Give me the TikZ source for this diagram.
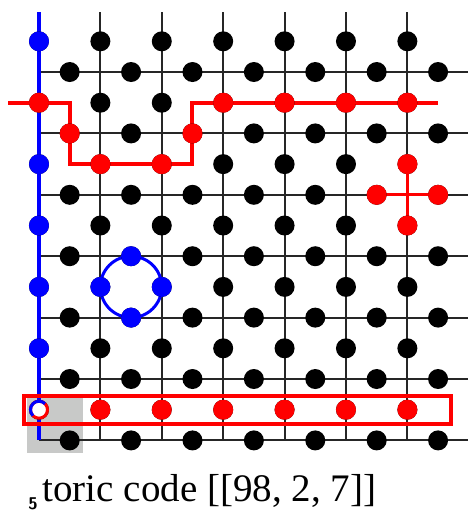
\documentclass[tikz,border=0pt]{standalone}
\usepackage{fontspec}
\setmainfont{Liberation Serif}
\usepackage{tikz}
\definecolor{qred}{RGB}{255,0,0}
\definecolor{qblue}{RGB}{0,0,255}
\definecolor{cellgray}{RGB}{200,201,200}
\tikzset{
  edge/.style={draw=black!85, line width=1pt},
  zline/.style={draw=qblue, line width=1.8pt},
  xline/.style={draw=qred, line width=2pt},
  qb/.style={circle, fill=black, inner sep=0pt, minimum size=10pt},
  xq/.style={qb, fill=qred},
  zq/.style={qb, fill=qblue}
}

\begin{document}
\begin{tikzpicture}[x=30.7pt, y=-30.7pt]
\useasboundingbox (-0.635,-1.173) rectangle (6.987,7.166);
% ---- shaded cell (bottom left) ----
\fill[cellgray] (-0.195,5.31) rectangle (0.717,6.2);
% ---- lattice ----
\foreach \i in {0,...,6}{
  \draw[edge] (\i,-0.977) -- (\i,6);
  \draw[edge] (0,\i) -- (6.99,\i);}
% ---- Z string on the left boundary ----
\draw[zline] (0,-0.977) -- (0,6);
% ---- X string on the dual lattice ----
\coordinate (xa) at (-0.5,0.5);
\coordinate (xb) at (0.5,0.5);
\coordinate (xc) at (0.5,1.5);
\coordinate (xd) at (2.5,1.5);
\coordinate (xe) at (2.5,0.5);
\coordinate (xf) at (6.5,0.5);
\draw[xline] (xa) -- (xb) -- (xc) -- (xd) -- (xe) -- (xf);
% ---- star operator ----
\coordinate (sn) at (6,1.5);
\coordinate (ss) at (6,2.5);
\coordinate (sw) at (5.5,2);
\coordinate (se) at (6.5,2);
\draw[xline, line width=1.5pt] (sn) -- (ss) (sw) -- (se);
% ---- plaquette operator ----
\coordinate (pc) at (1.5,3.5);
\draw[zline, line width=1.5pt] (pc) circle[radius=0.5];
% ---- bottom row frame ----
\draw[xline] (-0.236,5.27) rectangle (6.71,5.73);
% ---- data qubits: vertical edges (v) and horizontal edges (h) ----
\foreach \i in {0,...,6}{
  \foreach \k in {0,...,6}{
    \node[qb] (v-\i-\k) at (\i,\k-0.5) {};
    \node[qb] (h-\i-\k) at (\i+0.5,\k) {};}}
% ---- coloured qubits ----
\foreach \k/\n in {0/1, 2/2, 3/3, 4/4, 5/5}{
  \node[zq] (z\n) at (v-0-\k) {};}
\foreach \p/\n in {v-0-1/1, h-0-1/2, v-1-2/3, v-2-2/4, h-2-1/5, v-3-1/6, v-4-1/7, v-5-1/8, v-6-1/9}{
  \node[xq] (x\n) at (\p) {};}
\foreach \p/\n in {sn/1, ss/2, sw/3, se/4}{
  \node[xq] (s\n) at (\p) {};}
\foreach \p/\n in {h-1-3/1, v-1-4/2, v-2-4/3, h-1-4/4}{
  \node[zq] (p\n) at (\p) {};}
\foreach \i in {1,...,6}{
  \node[xq] (r\i) at (v-\i-6) {};}
% ---- corner qubit ----
\node[qb, fill=white, draw=qred, line width=1.5pt, minimum size=8.5pt] (cq) at (v-0-6) {};
\draw[qblue, line width=1.5pt] ([shift={(45:4.25pt)}]cq.center)
  arc[start angle=45, end angle=225, radius=4.25pt];
% ---- caption ----
\node[anchor=base west, inner sep=0pt, font=\fontsize{19.5}{23}\selectfont] (cap) at (0.05,7.0)
  {toric code [[98, 2, 7]]};
\node[anchor=base west, inner sep=0pt, font=\sffamily\bfseries\fontsize{8.5}{10}\selectfont] (num) at (-0.18,7.13) {5};
\end{tikzpicture}
\end{document}
